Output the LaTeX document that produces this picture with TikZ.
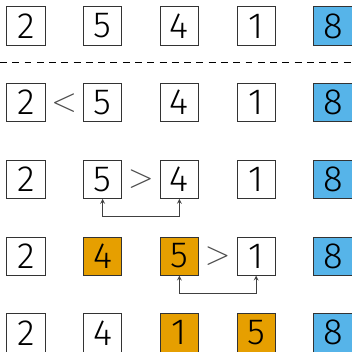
\documentclass[tikz,border=0pt]{standalone}
\usepackage{fontspec}
\setmainfont{Fira Sans Light}
\definecolor{skyblue}{HTML}{56B4E9}
\definecolor{orangeish}{HTML}{E69F00}
\begin{document}
\begin{tikzpicture}[every node/.style={font=\fontsize{27}{30}\selectfont}]
        \tikzstyle{box} = [draw=black!80, minimum size=1cm, inner sep=0pt, line width=0.5pt]
        \tikzstyle{sorted} = [box, fill=skyblue]
        \tikzstyle{moved} = [box, fill=orangeish]
        \tikzstyle{cmp} = [text=black!70, inner sep=0pt, font=\fontsize{24}{24}\selectfont]
        \useasboundingbox (-0.675,-8.5) rectangle (8.5,0.675);
        % initial list
        \node[box] (a1) at (0, 0) {2};
        \node[box] (a2) at (2, 0) {5};
        \node[box] (a3) at (4, 0) {4};
        \node[box] (a4) at (6, 0) {1};
        \node[sorted] (a5) at (8, 0) {8};
        \coordinate (dl) at (-0.675, -0.95);
        \coordinate (dr) at (8.5, -0.95);
        \draw[line width=1.2pt, dash pattern=on 0.18cm off 0.14cm] (dl) -- (dr);
        % step 1
        \node[box] (b1) at (0, -2) {2};
        \node[box] (b2) at (2, -2) {5};
        \node[box] (b3) at (4, -2) {4};
        \node[box] (b4) at (6, -2) {1};
        \node[sorted] (b5) at (8, -2) {8};
        \node[cmp] (lt) at (1, -2) {$<$};
        % step 2
        \node[box] (c1) at (0, -4) {2};
        \node[box] (c2) at (2, -4) {5};
        \node[box] (c3) at (4, -4) {4};
        \node[box] (c4) at (6, -4) {1};
        \node[sorted] (c5) at (8, -4) {8};
        \node[cmp] (gt1) at (3, -4) {$>$};
        \draw[<->, >=stealth, black!75, line width=0.6pt] (c2.south) -- ++(0, -0.46) -| (c3.south);
        % step 3
        \node[box] (d1) at (0, -6) {2};
        \node[moved] (d2) at (2, -6) {4};
        \node[moved] (d3) at (4, -6) {5};
        \node[box] (d4) at (6, -6) {1};
        \node[sorted] (d5) at (8, -6) {8};
        \node[cmp] (gt2) at (5, -6) {$>$};
        \draw[<->, >=stealth, black!75, line width=0.6pt] (d3.south) -- ++(0, -0.46) -| (d4.south);
        % step 4
        \node[box] (e1) at (0, -8) {2};
        \node[box] (e2) at (2, -8) {4};
        \node[moved] (e3) at (4, -8) {1};
        \node[moved] (e4) at (6, -8) {5};
        \node[sorted] (e5) at (8, -8) {8};
      \end{tikzpicture}
\end{document}
